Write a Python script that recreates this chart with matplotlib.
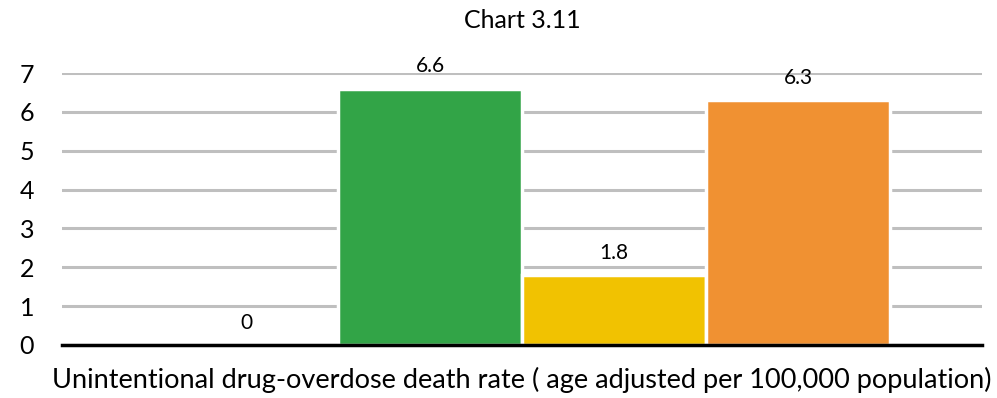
import matplotlib
matplotlib.use("Agg")
import numpy as np
import matplotlib.pyplot as plt

plt.rcParams['font.family'] = ['Lato', 'DejaVu Sans']

# data
category = "Unintentional drug-overdose death rate ( age adjusted per 100,000 population)"
values = [0, 6.6, 1.8, 6.3]
labels = ["0", "6.6", "1.8", "6.3"]
colors = ["#4472C4", "#32A447", "#F1C201", "#F09132"]
yticks = [0, 1, 2, 3, 4, 5, 6, 7]

fig = plt.figure(figsize=(9.97, 3.98), dpi=100)
ax = fig.add_axes([62 / 997, 53 / 398, 920 / 997, 272 / 398])

n = len(values)
width = 0.2
offsets = (np.arange(n) - (n - 1) / 2) * width

bars = ax.bar(offsets, values, width=width, color=colors,
              edgecolor="white", linewidth=2.5, zorder=3)

top = 7.0
for b, v, lab in zip(bars, values, labels):
    x = b.get_x() + b.get_width() / 2
    ax.annotate(lab, (x, v), xytext=(0, 16), textcoords="offset points",
                ha="center", va="center", fontsize=15, color="black",
                annotation_clip=False)

ax.set_xlim(-0.5, 0.5)
ax.set_ylim(0, top)
ax.set_yticks(yticks)
ax.set_yticklabels([str(t) for t in yticks], fontsize=18)
ax.set_xticks([0])
ax.set_xticklabels([category], fontsize=19.5)

ax.grid(axis="y", color="#BFBFBF", linewidth=2.2, zorder=0)
ax.set_axisbelow(True)
for s in ["top", "right", "left"]:
    ax.spines[s].set_visible(False)
ax.spines["bottom"].set_linewidth(2.5)
ax.spines["bottom"].set_color("black")
ax.spines["bottom"].set_zorder(4)
ax.tick_params(axis="both", length=0)
ax.tick_params(axis="y", pad=20)
ax.tick_params(axis="x", pad=16)

fig.suptitle("Chart 3.11", x=522 / 997, y=1 - 9 / 398, va="top", fontsize=18)

fig.savefig("out.png", dpi=100)
